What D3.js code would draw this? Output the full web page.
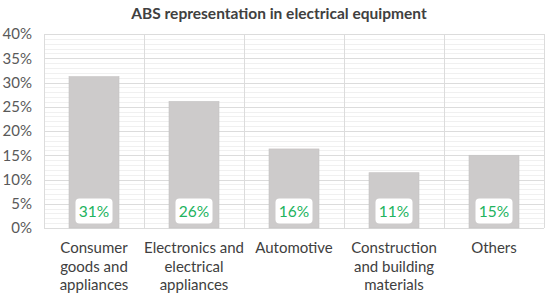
<!DOCTYPE html>
<html>
<head>
<meta charset="utf-8">
<script src="https://cdn.jsdelivr.net/npm/d3@7"></script>
<style>
  body { margin: 0; background: #fff; }
  text { font-family: Lato, "Open Sans", sans-serif; }
</style>
</head>
<body>
<script>
// data
const categories = [
  ["Consumer", "goods and", "appliances"],
  ["Electronics and", "electrical", "appliances"],
  ["Automotive"],
  ["Construction", "and building", "materials"],
  ["Others"]
];
const shares = [0.312, 0.261, 0.163, 0.114, 0.150];
const yTicks = [0, 0.05, 0.10, 0.15, 0.20, 0.25, 0.30, 0.35, 0.40];

const W = 550, H = 297;
const m = {top: 34, right: 6, bottom: 69, left: 44};

const svg = d3.select("body").append("svg")
  .attr("width", W).attr("height", H);

const x = d3.scaleBand()
  .domain(d3.range(categories.length))
  .range([m.left, W - m.right])
  .paddingInner(0).paddingOuter(0);

const y = d3.scaleLinear()
  .domain([0, 0.40])
  .range([H - m.bottom, m.top]);

// title
svg.append("text")
  .attr("x", 279).attr("y", 19)
  .attr("text-anchor", "middle")
  .attr("font-size", 15.5).attr("font-weight", "bold")
  .attr("fill", "#404040")
  .text("ABS representation in electrical equipment");

// minor grid (every 1%)
svg.append("g").selectAll("line")
  .data(d3.range(0, 41).map(d => d / 100))
  .join("line")
  .attr("x1", m.left).attr("x2", W - m.right)
  .attr("y1", d => Math.round(y(d)) + 0.5).attr("y2", d => Math.round(y(d)) + 0.5)
  .attr("stroke", "#f0f0f0");

// major grid
svg.append("g").selectAll("line")
  .data(yTicks)
  .join("line")
  .attr("x1", m.left).attr("x2", W - m.right)
  .attr("y1", d => Math.round(y(d)) + 0.5).attr("y2", d => Math.round(y(d)) + 0.5)
  .attr("stroke", "#dcdcdc");

// vertical category separators
svg.append("g").selectAll("line")
  .data(d3.range(categories.length + 1))
  .join("line")
  .attr("x1", d => Math.round(m.left + d * x.bandwidth()) + 0.5)
  .attr("x2", d => Math.round(m.left + d * x.bandwidth()) + 0.5)
  .attr("y1", y(0.40)).attr("y2", y(0))
  .attr("stroke", "#dcdcdc");

// y axis labels
const yAxis = d3.axisLeft(y).tickValues(yTicks)
  .tickFormat(d3.format(".0%")).tickSize(0).tickPadding(12);
const ya = svg.append("g").attr("transform", `translate(${m.left},0)`).call(yAxis);
ya.select(".domain").remove();
ya.selectAll("text").attr("font-size", 15).attr("fill", "#595959")
  .attr("font-family", "Lato, sans-serif");

// bars
const barW = 50;
svg.append("g").selectAll("rect")
  .data(shares)
  .join("rect")
  .attr("x", (d, i) => x(i) + x.bandwidth() / 2 - barW / 2)
  .attr("y", d => y(d))
  .attr("width", barW)
  .attr("height", d => y(0) - y(d))
  .attr("fill", "#cdcbcb")
  .attr("stroke", "#c4c2c2").attr("stroke-width", 0.6);

// value labels
const lab = svg.append("g").selectAll("g")
  .data(shares)
  .join("g")
  .attr("transform", (d, i) => `translate(${x(i) + x.bandwidth() / 2},${y(0) - 17})`);
lab.append("rect")
  .attr("x", -18.5).attr("y", -12.5)
  .attr("width", 37).attr("height", 25)
  .attr("rx", 4)
  .attr("fill", "#fff");
lab.append("text")
  .attr("text-anchor", "middle").attr("dy", "0.36em")
  .attr("font-size", 15.5).attr("fill", "#22b35e")
  .text(d => d3.format(".0%")(d));

// category labels
const xl = svg.append("g").selectAll("text")
  .data(categories)
  .join("text")
  .attr("text-anchor", "middle")
  .attr("font-size", 15).attr("fill", "#404040")
  .attr("transform", (d, i) => `translate(${x(i) + x.bandwidth() / 2},253)`);
xl.selectAll("tspan")
  .data(d => d)
  .join("tspan")
  .attr("x", 0).attr("dy", (d, j) => j === 0 ? 0 : 18.5)
  .text(d => d);
</script>
</body>
</html>
